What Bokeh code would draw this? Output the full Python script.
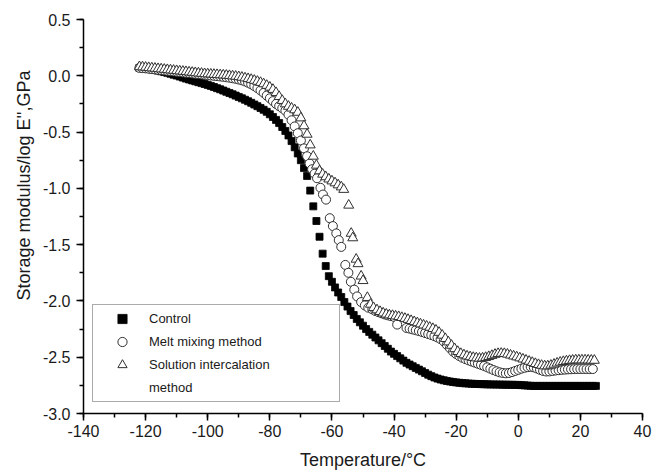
from bokeh.plotting import figure
from bokeh.models import (Range1d, SingleIntervalTicker, NumeralTickFormatter,
                          Legend, LegendItem, Title)
from bokeh.embed import file_html
from bokeh.resources import INLINE

# ---------------- data ----------------
series_labels = ["Control", "Melt mixing method", "Solution intercalation", "method"]

control_temp = [
    -122, -121, -120, -119, -118, -117, -116, -115, -114, -113, -112, -111, -110,
    -109, -108, -107, -106, -105, -104, -103, -102, -101, -100, -99, -98, -97,
    -96, -95, -94, -93, -92, -91, -90, -89, -88, -87, -86, -85, -84, -83, -82,
    -81, -80, -79, -78, -77, -76, -75, -74, -73, -72, -71, -70, -69, -68, -67,
    -66, -65, -64, -63, -62, -61, -60, -59, -58, -57, -56, -55, -54, -53, -52,
    -51, -50, -49, -48, -47, -46, -45, -44, -43, -42, -41, -40, -39, -38, -37,
    -36, -35, -34, -33, -32, -31, -30, -29, -28, -27, -26, -25, -24, -23, -22,
    -21, -20, -19, -18, -17, -16, -15, -14, -13, -12, -11, -10, -9, -8, -7, -6,
    -5, -4, -3, -2, -1, 0, 1, 2, 3, 4, 5, 6, 7, 8, 9, 10, 11, 12, 13, 14, 15,
    16, 17, 18, 19, 20, 21, 22, 23, 24, 25]
control_logE = [
    0.070, 0.068, 0.064, 0.060, 0.056, 0.051, 0.046, 0.040, 0.033, 0.026, 0.018,
    0.010, 0.002, -0.007, -0.016, -0.025, -0.033, -0.041, -0.049, -0.057, -0.065,
    -0.073, -0.081, -0.090, -0.100, -0.110, -0.120, -0.131, -0.142, -0.153,
    -0.164, -0.176, -0.188, -0.200, -0.213, -0.226, -0.240, -0.255, -0.270,
    -0.286, -0.302, -0.320, -0.342, -0.366, -0.392, -0.420, -0.455, -0.490,
    -0.530, -0.580, -0.635, -0.690, -0.750, -0.820, -0.890, -1.020, -1.160,
    -1.290, -1.430, -1.580, -1.690, -1.780, -1.830, -1.880, -1.925, -1.965,
    -2.010, -2.050, -2.090, -2.125, -2.160, -2.190, -2.220, -2.250, -2.275,
    -2.300, -2.325, -2.350, -2.375, -2.400, -2.425, -2.450, -2.470, -2.490,
    -2.510, -2.530, -2.550, -2.565, -2.580, -2.595, -2.610, -2.625, -2.640,
    -2.655, -2.668, -2.680, -2.690, -2.698, -2.705, -2.711, -2.716, -2.720,
    -2.724, -2.727, -2.730, -2.732, -2.734, -2.736, -2.737, -2.738, -2.739,
    -2.740, -2.741, -2.742, -2.742, -2.743, -2.743, -2.744, -2.744, -2.745,
    -2.745, -2.746, -2.746, -2.748, -2.750, -2.752, -2.754, -2.755, -2.755,
    -2.755, -2.755, -2.755, -2.755, -2.755, -2.755, -2.755, -2.755, -2.755,
    -2.755, -2.755, -2.755, -2.755, -2.755, -2.755, -2.755, -2.755, -2.755,
    -2.755]

melt_temp = [
    -122, -121, -120, -119, -118, -117, -116, -115, -114, -113, -112, -111, -110,
    -109, -108, -107, -106, -105, -104, -103, -102, -101, -100, -99, -98, -97,
    -96, -95, -94, -93, -92, -91, -90, -89, -88, -87, -86, -85, -84, -83, -82,
    -81, -80, -79, -78, -77, -76, -75, -74, -73, -72, -71, -70, -69, -68,
    -67.2, -66.4, -65.6, -64.8, -63.7, -62.9, -61.9, -60.7, -59.7, -58.6, -57.8,
    -57.0, -55.7, -54.7, -53.9, -52.8, -51.9, -50.6, -49.4, -48.3, -47, -46, -45,
    -44, -43, -42, -41, -40, -39, -36, -35, -34, -33, -32, -31, -30, -29, -28,
    -27, -26, -25, -24, -23, -22, -21, -20, -19, -18, -17, -16, -15, -14, -13,
    -12, -11, -10, -9, -8, -7, -6, -5, -4, -3, -2, -1, 0, 1, 2, 3, 4, 5, 6, 7,
    8, 9, 10, 11, 12, 13, 14, 15, 16, 17, 18, 19, 20, 21, 22, 23, 24]
melt_logE = [
    0.070, 0.068, 0.066, 0.063, 0.060, 0.057, 0.054, 0.051, 0.048, 0.045, 0.042,
    0.039, 0.036, 0.033, 0.030, 0.027, 0.024, 0.021, 0.018, 0.015, 0.012, 0.009,
    0.006, 0.003, 0.000, -0.003, -0.006, -0.009, -0.013, -0.017, -0.022, -0.027,
    -0.033, -0.040, -0.050, -0.062, -0.076, -0.092, -0.110, -0.130, -0.152,
    -0.176, -0.200, -0.225, -0.250, -0.270, -0.288, -0.310, -0.345, -0.395,
    -0.450, -0.510, -0.575, -0.645, -0.715,
    -0.780, -0.830, -0.870, -0.910, -0.995, -1.055, -1.100, -1.265, -1.335,
    -1.400, -1.460, -1.520, -1.680, -1.750, -1.830, -1.900, -1.960, -2.010,
    -2.040, -2.060, -2.075, -2.090, -2.100, -2.110, -2.120, -2.128, -2.135,
    -2.142, -2.210, -2.240, -2.246, -2.253, -2.260, -2.268, -2.276, -2.285,
    -2.294, -2.303, -2.313, -2.325, -2.340, -2.360, -2.390, -2.420, -2.450,
    -2.472, -2.490, -2.505, -2.517, -2.528, -2.538, -2.548, -2.558, -2.568,
    -2.578, -2.590, -2.602, -2.614, -2.625, -2.634, -2.640, -2.643, -2.640,
    -2.632, -2.622, -2.612, -2.602, -2.594, -2.588, -2.586, -2.590, -2.600,
    -2.612, -2.622, -2.627, -2.626, -2.622, -2.618, -2.615, -2.612, -2.610,
    -2.608, -2.607, -2.606, -2.605, -2.605, -2.605, -2.605, -2.605, -2.605]

sol_temp = [
    -122, -121, -120, -119, -118, -117, -116, -115, -114, -113, -112, -111, -110,
    -109, -108, -107, -106, -105, -104, -103, -102, -101, -100, -99, -98, -97,
    -96, -95, -94, -93, -92, -91, -90, -89, -88, -87, -86, -85, -84, -83, -82,
    -81, -80, -79, -78, -77, -76, -75, -74, -73, -72, -71, -70, -69, -68, -67,
    -66, -65, -64, -63, -62, -61, -60, -59, -58, -57, -56.2, -54.6, -53.8,
    -53.3, -52.2, -51.6, -50.6, -50.0, -48.6, -47.6, -46.6, -45.5, -44.5, -43.5,
    -42.5, -41.5, -40.5, -39.5, -38.5, -37.5, -36.5, -35.5, -34.5, -33.5, -32.5,
    -31.5, -30.5, -29.5, -28.5, -27.5, -26.5, -25.5, -24.5, -23.5, -22.5, -21.5,
    -20.5, -19.5, -18.5, -17.5, -16.5, -15.5, -14.5, -13.5, -12.5, -11.5, -10.5,
    -9.5, -8.5, -7.5, -6.5, -5.5, -4.5, -3.5, -2.5, -1.5, -0.5, 0.5, 1.5, 2.5,
    3.5, 4.5, 5.5, 6.5, 7.5, 8.5, 9.5, 10.5, 11.5, 12.5, 13.5, 14.5, 15.5, 16.5,
    17.5, 18.5, 19.5, 20.5, 21.5, 22.5, 23.5, 24.5]
sol_logE = [
    0.080, 0.078, 0.075, 0.072, 0.069, 0.066, 0.063, 0.060, 0.057, 0.054, 0.051,
    0.048, 0.045, 0.042, 0.039, 0.036, 0.033, 0.030, 0.027, 0.024, 0.021, 0.018,
    0.016, 0.014, 0.012, 0.010, 0.008, 0.006, 0.004, 0.001, -0.002, -0.005,
    -0.009, -0.014, -0.020, -0.026, -0.033, -0.041, -0.050, -0.060, -0.072,
    -0.086, -0.102, -0.122, -0.150, -0.185, -0.220, -0.250, -0.272, -0.288,
    -0.303, -0.325, -0.375, -0.445, -0.520, -0.615, -0.715, -0.795, -0.845,
    -0.875, -0.898, -0.918, -0.935, -0.952, -0.970, -0.988, -1.010, -1.150,
    -1.400, -1.440, -1.630, -1.670, -1.780, -1.820, -1.970, -2.030, -2.060,
    -2.080, -2.095, -2.108, -2.118, -2.125, -2.130, -2.135, -2.140, -2.148,
    -2.156, -2.165, -2.175, -2.185, -2.195, -2.205, -2.215, -2.225, -2.235,
    -2.246, -2.260, -2.280, -2.305, -2.335, -2.365, -2.395, -2.425, -2.450,
    -2.468, -2.480, -2.490, -2.497, -2.503, -2.507, -2.510, -2.508, -2.503,
    -2.495, -2.485, -2.475, -2.468, -2.466, -2.468, -2.474, -2.482, -2.490,
    -2.498, -2.507, -2.517, -2.527, -2.537, -2.547, -2.557, -2.566, -2.573,
    -2.578, -2.578, -2.572, -2.563, -2.553, -2.545, -2.539, -2.534, -2.530,
    -2.527, -2.525, -2.525, -2.525, -2.525, -2.526, -2.527, -2.528]

x_label = "Temperature/°C"
y_label = "Storage modulus/log E'',GPa"

# ---------------- figure ----------------
FONT = "Liberation Sans"
TXT = "#1a1a1a"

p = figure(width=653, height=473, output_backend="svg", toolbar_location=None,
           x_range=Range1d(-140, 40), y_range=Range1d(-3.0, 0.5),
           min_border_left=83, min_border_right=11, min_border_top=19,
           min_border_bottom=60)
p.outline_line_color = None
p.grid.visible = False
p.background_fill_color = "white"
p.border_fill_color = "white"

r_c = p.scatter(control_temp, control_logE, marker="square", size=7,
                fill_color="black", line_color="black", line_width=0.8)
r_m = p.scatter(melt_temp, melt_logE, marker="circle", size=9,
                fill_color="white", line_color="#303030", line_width=1)
r_s = p.scatter(sol_temp, sol_logE, marker="triangle", size=10,
                fill_color="white", line_color="#303030", line_width=1)
r_blank = p.scatter([], [], marker="circle", size=1, fill_alpha=0, line_alpha=0)

# axes
p.xaxis.ticker = SingleIntervalTicker(interval=20, num_minor_ticks=2)
p.yaxis.ticker = SingleIntervalTicker(interval=0.5, num_minor_ticks=2)
p.xaxis.formatter = NumeralTickFormatter(format="0")
p.yaxis.formatter = NumeralTickFormatter(format="0.0")
for ax in (p.xaxis[0], p.yaxis[0]):
    ax.axis_line_color = "black"
    ax.axis_line_width = 1.5
    ax.major_tick_line_color = "black"
    ax.major_tick_line_width = 1.5
    ax.minor_tick_line_color = "black"
    ax.minor_tick_line_width = 1.5
    ax.major_tick_out = 7
    ax.major_tick_in = 0
    ax.minor_tick_out = 4
    ax.minor_tick_in = 0
    ax.major_label_text_font = FONT
    ax.major_label_text_font_size = "16px"
    ax.major_label_text_color = TXT
p.xaxis.major_label_standoff = 4
p.yaxis.major_label_standoff = 6

p.xaxis.axis_label = x_label
p.xaxis.axis_label_text_font = FONT
p.xaxis.axis_label_text_font_size = "18px"
p.xaxis.axis_label_text_font_style = "normal"
p.xaxis.axis_label_text_color = TXT
p.xaxis.axis_label_standoff = 10

ytitle = Title(text=y_label, align="right", offset=51, text_font=FONT,
               text_font_size="18px", text_font_style="normal",
               text_color=TXT, standoff=12)
p.add_layout(ytitle, "left")

legend = Legend(
    items=[LegendItem(label=series_labels[0], renderers=[r_c]),
           LegendItem(label=series_labels[1], renderers=[r_m]),
           LegendItem(label=series_labels[2], renderers=[r_s]),
           LegendItem(label=series_labels[3], renderers=[r_blank])],
    location=(9, 11), orientation="vertical",
    glyph_width=54, glyph_height=23, label_height=23, label_width=188,
    spacing=0, padding=2, margin=0, label_standoff=0,
    border_line_color="#555555", border_line_width=1,
    background_fill_color="white", background_fill_alpha=1.0,
    label_text_font=FONT, label_text_font_size="13px", label_text_color=TXT)
p.add_layout(legend)

open("out.html", "w").write(file_html(p, INLINE))
